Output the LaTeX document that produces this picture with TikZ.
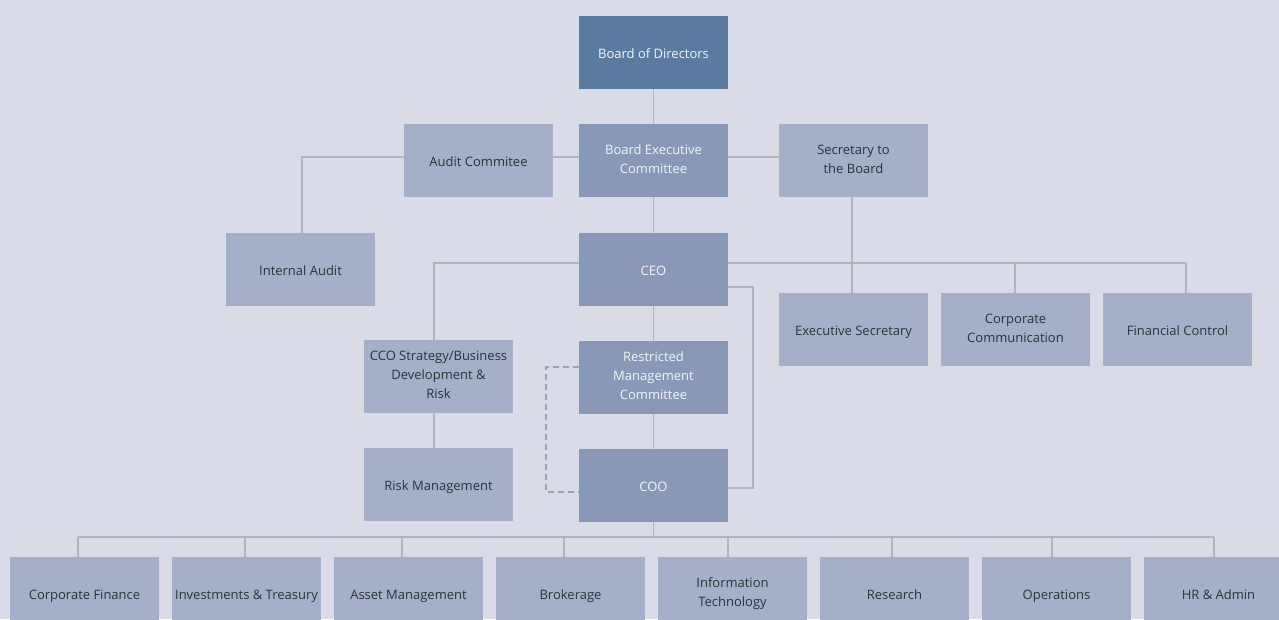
\documentclass[tikz,border=0pt]{standalone}
\usepackage{fontspec}
\setmainfont{Open Sans}
\usepackage{xcolor}
\usetikzlibrary{positioning,calc}
\definecolor{chartbg}{HTML}{D9DBE6}
\definecolor{boardblue}{HTML}{5B7AA0}
\definecolor{execblue}{HTML}{8898B6}
\definecolor{unitblue}{HTML}{A5B0C8}
\definecolor{linkgray}{HTML}{B3B4B9}
\definecolor{labeldark}{HTML}{2E3138}
\tikzset{
  orgbox/.style={rectangle,minimum width=149pt,minimum height=73pt,inner sep=0pt,
    align=center,font=\fontsize{13}{19}\selectfont,
    execute at begin node=\rule{0pt}{15pt},execute at end node=\rule[-3pt]{0pt}{3pt}},
  boardbox/.style={orgbox,fill=boardblue,text=white!92!boardblue},
  execbox/.style={orgbox,fill=execblue,text=white!90!execblue},
  unitbox/.style={orgbox,fill=unitblue,text=labeldark},
  orgline/.style={draw=linkgray,line width=1.6pt},
  dashline/.style={draw=linkgray!90!black,line width=1.4pt,dash pattern=on 6pt off 4pt}
}

\begin{document}
\begin{tikzpicture}[x=1pt,y=-1pt]
  \fill[chartbg] (0,0) rectangle (1279,619);
  \useasboundingbox (0,0) rectangle (1279,619);
  % top of the chart
  \node[boardbox] (bod) at (653.5,52.5) {Board of Directors};
  \node[unitbox] (audit) at (478.5,160.5) {Audit Commitee};
  \node[execbox] (bec) at (653.5,160.5) {Board Executive\\Committee};
  \node[unitbox] (secr) at (853.5,160.5) {Secretary to\\the Board};
  \node[unitbox] (intaudit) at (300.5,269.5) {Internal Audit};
  \node[execbox] (ceo) at (653.5,269.5) {CEO};
  \node[unitbox] (execsec) at (853.5,329.5) {Executive Secretary};
  \node[unitbox] (corpcomm) at (1015.5,329.5) {Corporate\\Communication};
  \node[unitbox] (fincon) at (1177.5,329.5) {Financial Control};
  \node[unitbox] (cco) at (438.5,376.5) {CCO Strategy/Business\\Development \&\\Risk};
  \node[execbox] (rmc) at (653.5,377.5) {Restricted\\Management\\Committee};
  \node[unitbox] (riskm) at (438.5,484.5) {Risk Management};
  \node[execbox] (coo) at (653.5,485.5) {COO};
  % business units
  \foreach \nm/\cx/\dx/\txt in {corpfin/84.5/-6.5/{Corporate Finance},
      invtreas/246.5/-1.5/{Investments \& Treasury},
      assetm/408.5/-6.5/{Asset Management},
      broker/570.5/-6.5/{Brokerage},
      infotech/732.5/-4.5/{Information\\Technology},
      research/894.5/-2.5/{Research},
      ops/1056.5/-4.5/{Operations},
      hradmin/1218.5/-4.5/{HR \& Admin}}{
    \node[unitbox] (\nm) at (\cx,593.5) {\txt};
    \coordinate (\nm-top) at ([xshift=\dx pt]\nm.north);
  }
  \coordinate (ceobar) at (0,263);
  \coordinate (busbar) at (0,537);

  \draw[orgline] (bod) -- (bec);
  \draw[orgline] ([yshift=3.5pt]audit.east) -- ([yshift=3.5pt]bec.west);
  \draw[orgline] ([yshift=3.5pt]bec.east) -- ([yshift=3.5pt]secr.west);
  \draw[orgline] ([yshift=3.5pt]audit.west) -| ([xshift=1.5pt]intaudit.north);
  \draw[orgline] (bec) -- (ceo);
  \draw[orgline] ([yshift=6.5pt]ceo.west) -| ([xshift=-4.5pt]cco.north);
  \draw[orgline] ([yshift=6.5pt]ceo.east) -| ([xshift=8.5pt]fincon.north);
  \draw[orgline] ([xshift=-1.5pt]secr.south) -- ([xshift=-1.5pt]execsec.north);
  \draw[orgline] ([xshift=-0.5pt]corpcomm.north) -- ([xshift=-0.5pt]corpcomm.north |- ceobar);
  \draw[orgline] ([xshift=-4.5pt]cco.south) -- ([xshift=-4.5pt]riskm.north);
  \draw[orgline] (ceo) -- (rmc);
  \draw[orgline] (rmc) -- (coo);
  \draw[orgline] ([yshift=-17.5pt]ceo.east) -- ++(25,0) |- ([yshift=-2.5pt]coo.east);
  \draw[dashline] ([yshift=10.5pt]rmc.west) -- ++(-33,0) |- ([yshift=-6.5pt]coo.west);
  \draw[orgline] (coo) -- (coo |- busbar);
  \draw[orgline] (corpfin-top |- busbar) -- (hradmin-top |- busbar);
  \foreach \nm in {corpfin,invtreas,assetm,broker,infotech,research,ops,hradmin}
    \draw[orgline] (\nm-top) -- (\nm-top |- busbar);
\end{tikzpicture}
\end{document}
